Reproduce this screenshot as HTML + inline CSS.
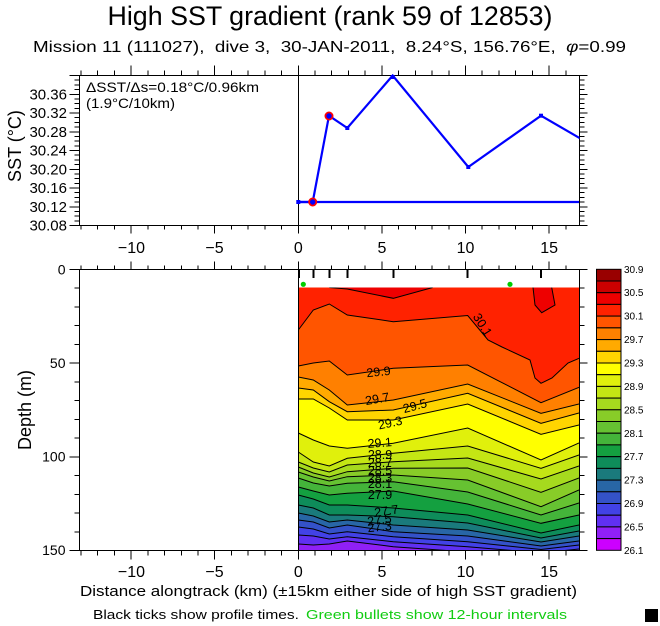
<!DOCTYPE html>
<html><head><meta charset="utf-8"><style>
html,body{margin:0;padding:0;background:#fff}
svg{display:block}
text{font-family:"Liberation Sans",sans-serif;fill:#000}
</style></head><body>
<svg width="660" height="626" viewBox="0 0 660 626" xmlns="http://www.w3.org/2000/svg" xmlns:xlink="http://www.w3.org/1999/xlink">
<defs>
<path id="xmin" d="M80.9 0v1M97.7 0v1M114.4 0v1M147.8 0v1M164.5 0v1M181.3 0v1M198 0v1M231.4 0v1M248.1 0v1M264.9 0v1M281.6 0v1M315 0v1M331.7 0v1M348.5 0v1M365.2 0v1M398.6 0v1M415.3 0v1M432.1 0v1M448.8 0v1M482.2 0v1M498.9 0v1M515.7 0v1M532.4 0v1M565.8 0v1"/>
<path id="xmaj" d="M131.1 0v1M214.7 0v1M298.3 0v1M381.9 0v1M465.5 0v1M549.1 0v1"/>
<path id="tymin" d="M0 220.8h1M0 216.1h1M0 211.4h1M0 202.1h1M0 197.4h1M0 192.7h1M0 183.3h1M0 178.6h1M0 173.9h1M0 164.6h1M0 159.9h1M0 155.2h1M0 145.8h1M0 141.1h1M0 136.4h1M0 127.1h1M0 122.4h1M0 117.7h1M0 108.3h1M0 103.6h1M0 98.9h1M0 89.6h1M0 84.9h1M0 80.2h1"/>
<path id="tymaj" d="M0 225.5h1M0 206.75h1M0 188h1M0 169.25h1M0 150.5h1M0 131.75h1M0 113h1M0 94.25h1M0 75.5h1"/>
<path id="cymin" d="M0 288.2h1M0 307h1M0 325.7h1M0 344.4h1M0 381.9h1M0 400.6h1M0 419.4h1M0 438.1h1M0 475.6h1M0 494.3h1M0 513h1M0 531.8h1"/>
<path id="cymaj" d="M0 269.5h1M0 363.2h1M0 456.8h1M0 550.5h1"/>
<clipPath id="cclip"><rect x="298.3" y="287.5" width="280.7" height="263"/></clipPath>
<clipPath id="tclip"><rect x="79.5" y="74" width="500" height="152"/></clipPath>
</defs>

<!-- Titles -->
<text x="330" y="25" font-size="27" text-anchor="middle" textLength="445" lengthAdjust="spacingAndGlyphs">High SST gradient (rank 59 of 12853)</text>
<text x="33" y="52" font-size="16" style="white-space:pre" textLength="593" lengthAdjust="spacingAndGlyphs">Mission 11 (111027),  dive 3,  30-JAN-2011,  8.24°S, 156.76°E,  <tspan font-style="italic">φ</tspan>=0.99</text>

<!-- ===== TOP PLOT ===== -->
<g stroke="#000" stroke-width="1" shape-rendering="crispEdges" fill="none">
<rect x="79.5" y="75.5" width="500" height="150"/>
<line x1="298.5" y1="75.5" x2="298.5" y2="225.5"/>
<use xlink:href="#xmin" transform="translate(0,75.5) scale(1,-5)"/>
<use xlink:href="#xmaj" transform="translate(0,75.5) scale(1,-10)"/>
<use xlink:href="#xmin" transform="translate(0,225.5) scale(1,4)"/>
<use xlink:href="#xmaj" transform="translate(0,225.5) scale(1,8)"/>
<use xlink:href="#tymin" transform="translate(79.5,0) scale(-5,1)"/>
<use xlink:href="#tymaj" transform="translate(79.5,0) scale(-10,1)"/>
<use xlink:href="#tymin" transform="translate(579.5,0) scale(5,1)"/>
<use xlink:href="#tymaj" transform="translate(579.5,0) scale(8,1)"/>
</g>
<g font-size="15" text-anchor="end">
<text x="67" y="230.5">30.08</text>
<text x="67" y="211.75">30.12</text>
<text x="67" y="193">30.16</text>
<text x="67" y="174.25">30.20</text>
<text x="67" y="155.5">30.24</text>
<text x="67" y="136.75">30.28</text>
<text x="67" y="118">30.32</text>
<text x="67" y="99.25">30.36</text>
</g>
<g font-size="16" text-anchor="middle">
<text x="131.5" y="253">−10</text>
<text x="214.5" y="253">−5</text>
<text x="298.3" y="253">0</text>
<text x="381.9" y="253">5</text>
<text x="465.5" y="253">10</text>
<text x="549.1" y="253">15</text>
</g>
<text transform="translate(21,146) rotate(-90)" font-size="18" text-anchor="middle">SST (°C)</text>
<text x="86" y="92" font-size="14" textLength="173" lengthAdjust="spacingAndGlyphs">ΔSST/Δs=0.18°C/0.96km</text>
<text x="86" y="108" font-size="14" textLength="89" lengthAdjust="spacingAndGlyphs">(1.9°C/10km)</text>

<g clip-path="url(#tclip)">
<polyline points="298.3,202 579,202" fill="none" stroke="#0000ff" stroke-width="2.2"/>
<polyline points="298.3,202 312.7,202 329,115.7 347.3,128 392.7,75.5 468.3,167 541,115.7 579,137.7 590,144" fill="none" stroke="#0000ff" stroke-width="2.2"/>
<g fill="#0000ff">
<rect x="296.3" y="200" width="4" height="4"/>
<rect x="345.3" y="126" width="4" height="4"/>
<rect x="390.7" y="75" width="4" height="4"/>
<rect x="466.3" y="165" width="4" height="4"/>
<rect x="539" y="113.7" width="4" height="4"/>
</g>
<circle cx="312.7" cy="202" r="3.6" fill="#0000ff" stroke="#ff0000" stroke-width="1.8"/>
<circle cx="329" cy="116" r="3.6" fill="#0000ff" stroke="#ff0000" stroke-width="1.8"/>
</g>

<!-- ===== CONTOUR PLOT ===== -->
<g clip-path="url(#cclip)" stroke="none">
<rect x="298.3" y="287.5" width="281" height="263" fill="#ff2200"/>
<polygon fill="#ff5500" points="298.3,330 313.3,310 329.3,304 347.3,315 393.3,321.7 467.7,315.5 488,340 502,347 530,360 535,378 541,383.3 552,378 568,363 579,358.3 579,560 298.3,560"/>
<polygon fill="#ff8000" points="298.3,366 313.3,363 329.3,361 347.3,375 393.3,368.3 467.7,365 541,402.7 579,387.3 579,560 298.3,560"/>
<polygon fill="#ffaa00" points="298.3,377 313.3,380 329.3,390 347.3,405 393.3,400 467.7,384 541,413.3 579,404 579,560 298.3,560"/>
<polygon fill="#ffd500" points="298.3,388 313.3,390 329.3,401.7 347.3,411.7 393.3,410 467.7,393.3 541,423.3 579,413 579,560 298.3,560"/>
<polygon fill="#ffff00" points="298.3,399 313.3,399 329.3,408 347.3,420 393.3,420 467.7,404 541,434.3 579,425 579,560 298.3,560"/>
<polygon fill="#e0f00c" points="298.3,433 313.3,440 329.3,446 347.3,448.3 393.3,443.3 467.7,428 541,460 579,443 579,560 298.3,560"/>
<polygon fill="#c4e614" points="298.3,452 313.3,462 329.3,466 347.3,458.3 393.3,453.3 467.7,446 541,468.3 579,455 579,560 298.3,560"/>
<polygon fill="#a6da1e" points="298.3,462 313.3,468 329.3,472 347.3,465 393.3,461.7 467.7,458 541,479 579,466 579,560 298.3,560"/>
<polygon fill="#88cc28" points="298.3,467 313.3,473 329.3,477 347.3,471.7 393.3,468.3 467.7,468 541,492.3 579,478 579,560 298.3,560"/>
<polygon fill="#66c232" points="298.3,472 313.3,477 329.3,481 347.3,476.7 393.3,475 467.7,480 541,506.7 579,490 579,560 298.3,560"/>
<polygon fill="#44b43a" points="298.3,478 313.3,483 329.3,486 347.3,483.3 393.3,481.7 467.7,492 541,515 579,503 579,560 298.3,560"/>
<polygon fill="#14a040" points="298.3,487 313.3,491 329.3,495 347.3,493.3 393.3,491 467.7,504 541,523.3 579,515 579,560 298.3,560"/>
<polygon fill="#0e8c5a" points="298.3,495 313.3,499 329.3,505 347.3,505 393.3,508 467.7,515 541,533 579,525 579,560 298.3,560"/>
<polygon fill="#1a7a7c" points="298.3,505 313.3,508 329.3,515 347.3,515 393.3,516.7 467.7,523 541,538 579,531 579,560 298.3,560"/>
<polygon fill="#2866a6" points="298.3,513 313.3,516 329.3,522 347.3,520 393.3,525 467.7,530 541,542 579,536 579,560 298.3,560"/>
<polygon fill="#3452c8" points="298.3,520 313.3,522 329.3,528 347.3,525 393.3,531.7 467.7,536 541,546 579,541 579,560 298.3,560"/>
<polygon fill="#4242e6" points="298.3,527 313.3,529 329.3,534 347.3,531.7 393.3,536.7 467.7,541.7 541,549.5 579,545 579,560 298.3,560"/>
<polygon fill="#6030f2" points="298.3,535 313.3,536 329.3,539 347.3,536.7 393.3,541.7 467.7,546.7 541,553 579,549 579,560 298.3,560"/>
<polygon fill="#9020f6" points="298.3,544 313.3,545 329.3,544 347.3,541 393.3,546.7 467.7,552 541,556 579,553 579,560 298.3,560"/>
<polygon fill="#ee0000" points="329.3,287.5 347.3,289 393.3,298.3 432.7,287.5"/>
<polygon fill="#ee0000" points="533,287.5 535,305 541.7,312.7 555,305 551.7,287.5"/>
<g fill="none" stroke="#000" stroke-width="1">
<polyline points="329.3,287.5 347.3,289 393.3,298.3 432.7,287.5"/>
<polyline points="533,287.5 535,305 541.7,312.7 555,305 551.7,287.5"/>
<polyline points="298.3,330 313.3,310 329.3,304 347.3,315 393.3,321.7 467.7,315.5 488,340 502,347 530,360 535,378 541,383.3 552,378 568,363 579,358.3"/>
<polyline points="298.3,366 313.3,363 329.3,361 347.3,375 393.3,368.3 467.7,365 541,402.7 579,387.3"/>
<polyline points="298.3,377 313.3,380 329.3,390 347.3,405 393.3,400 467.7,384 541,413.3 579,404"/>
<polyline points="298.3,388 313.3,390 329.3,401.7 347.3,411.7 393.3,410 467.7,393.3 541,423.3 579,413"/>
<polyline points="298.3,399 313.3,399 329.3,408 347.3,420 393.3,420 467.7,404 541,434.3 579,425"/>
<polyline points="298.3,433 313.3,440 329.3,446 347.3,448.3 393.3,443.3 467.7,428 541,460 579,443"/>
<polyline points="298.3,452 313.3,462 329.3,466 347.3,458.3 393.3,453.3 467.7,446 541,468.3 579,455"/>
<polyline points="298.3,462 313.3,468 329.3,472 347.3,465 393.3,461.7 467.7,458 541,479 579,466"/>
<polyline points="298.3,467 313.3,473 329.3,477 347.3,471.7 393.3,468.3 467.7,468 541,492.3 579,478"/>
<polyline points="298.3,472 313.3,477 329.3,481 347.3,476.7 393.3,475 467.7,480 541,506.7 579,490"/>
<polyline points="298.3,478 313.3,483 329.3,486 347.3,483.3 393.3,481.7 467.7,492 541,515 579,503"/>
<polyline points="298.3,487 313.3,491 329.3,495 347.3,493.3 393.3,491 467.7,504 541,523.3 579,515"/>
<polyline points="298.3,495 313.3,499 329.3,505 347.3,505 393.3,508 467.7,515 541,533 579,525"/>
<polyline points="298.3,505 313.3,508 329.3,515 347.3,515 393.3,516.7 467.7,523 541,538 579,531"/>
<polyline points="298.3,513 313.3,516 329.3,522 347.3,520 393.3,525 467.7,530 541,542 579,536"/>
<polyline points="298.3,520 313.3,522 329.3,528 347.3,525 393.3,531.7 467.7,536 541,546 579,541"/>
<polyline points="298.3,527 313.3,529 329.3,534 347.3,531.7 393.3,536.7 467.7,541.7 541,549.5 579,545"/>
<polyline points="298.3,535 313.3,536 329.3,539 347.3,536.7 393.3,541.7 467.7,546.7 541,553 579,549"/>
<polyline points="298.3,544 313.3,545 329.3,544 347.3,541 393.3,546.7 467.7,552 541,556 579,553"/>
</g>
</g>

<!-- contour labels -->
<g font-size="12.5" text-anchor="middle">
<text transform="translate(479,327) rotate(58)">30.1</text>
<text transform="translate(379,376) rotate(-6)">29.9</text>
<text transform="translate(378,403) rotate(-10)">29.7</text>
<text transform="translate(416,410) rotate(-15)">29.5</text>
<text transform="translate(391,427) rotate(-12)">29.3</text>
<text transform="translate(380,447) rotate(-4)">29.1</text>
<text x="380" y="459">28.9</text>
<text x="380" y="467">28.7</text>
<text x="380" y="475">28.5</text>
<text x="380" y="482">28.3</text>
<text x="380" y="488">28.1</text>
<text x="380" y="499">27.9</text>
<text transform="translate(387,515) rotate(-8)">27.7</text>
<text transform="translate(380,524) rotate(-8)">27.5</text>
<text transform="translate(380,531) rotate(-6)">27.3</text>
</g>

<!-- green bullets -->
<circle cx="303.3" cy="284.3" r="2.6" fill="#00cc00"/>
<circle cx="510" cy="284.3" r="2.6" fill="#00cc00"/>

<g stroke="#000" stroke-width="1" shape-rendering="crispEdges" fill="none">
<rect x="79.5" y="269.5" width="500" height="281"/>
<line x1="298.5" y1="269.5" x2="298.5" y2="550.5"/>
<use xlink:href="#xmin" transform="translate(0,269.5) scale(1,-4)"/>
<use xlink:href="#xmaj" transform="translate(0,269.5) scale(1,-8)"/>
<use xlink:href="#xmin" transform="translate(0,550.5) scale(1,5)"/>
<use xlink:href="#xmaj" transform="translate(0,550.5) scale(1,9)"/>
<use xlink:href="#cymin" transform="translate(79.5,0) scale(-5,1)"/>
<use xlink:href="#cymaj" transform="translate(79.5,0) scale(-10,1)"/>
<use xlink:href="#cymin" transform="translate(579.5,0) scale(5,1)"/>
<use xlink:href="#cymaj" transform="translate(579.5,0) scale(8,1)"/>
</g>
<!-- profile ticks -->
<g stroke="#000" stroke-width="2" shape-rendering="crispEdges">
<path d="M299 269.5v8.5M313.3 269.5v8.5M329.3 269.5v8.5M347.3 269.5v8.5M393.3 269.5v8.5M467.7 269.5v8.5M541 269.5v8.5"/>
</g>

<g font-size="14" text-anchor="end">
<text x="65.5" y="274.5">0</text>
<text x="65.5" y="368">50</text>
<text x="65.5" y="461.5">100</text>
<text x="65.5" y="555">150</text>
</g>
<text transform="translate(31,410) rotate(-90)" font-size="18" text-anchor="middle">Depth (m)</text>
<g font-size="16" text-anchor="middle">
<text x="131.5" y="577">−10</text>
<text x="214.5" y="577">−5</text>
<text x="298.3" y="577">0</text>
<text x="381.9" y="577">5</text>
<text x="465.5" y="577">10</text>
<text x="549.1" y="577">15</text>
</g>
<text x="80" y="596" font-size="15" textLength="497" lengthAdjust="spacingAndGlyphs">Distance alongtrack (km) (±15km either side of high SST gradient)</text>
<text x="93" y="619" font-size="13" textLength="206" lengthAdjust="spacingAndGlyphs">Black ticks show profile times.</text>
<text x="306" y="619" font-size="13" style="fill:#11cc11" textLength="261" lengthAdjust="spacingAndGlyphs">Green bullets show 12-hour intervals</text>
<rect x="645" y="609" width="13" height="13" fill="#000"/>

<!-- colorbar -->
<g stroke="#000" stroke-width="1">
<rect x="596.5" y="269.3" width="24.5" height="11.71" fill="#990000"/>
<rect x="596.5" y="281.0" width="24.5" height="11.71" fill="#cc0000"/>
<rect x="596.5" y="292.7" width="24.5" height="11.71" fill="#ee0000"/>
<rect x="596.5" y="304.4" width="24.5" height="11.71" fill="#ff2200"/>
<rect x="596.5" y="316.1" width="24.5" height="11.71" fill="#ff5500"/>
<rect x="596.5" y="327.9" width="24.5" height="11.71" fill="#ff8000"/>
<rect x="596.5" y="339.6" width="24.5" height="11.71" fill="#ffaa00"/>
<rect x="596.5" y="351.3" width="24.5" height="11.71" fill="#ffd500"/>
<rect x="596.5" y="363.0" width="24.5" height="11.71" fill="#ffff00"/>
<rect x="596.5" y="374.7" width="24.5" height="11.71" fill="#e0f00c"/>
<rect x="596.5" y="386.4" width="24.5" height="11.71" fill="#c4e614"/>
<rect x="596.5" y="398.1" width="24.5" height="11.71" fill="#a6da1e"/>
<rect x="596.5" y="409.8" width="24.5" height="11.71" fill="#88cc28"/>
<rect x="596.5" y="421.5" width="24.5" height="11.71" fill="#66c232"/>
<rect x="596.5" y="433.2" width="24.5" height="11.71" fill="#44b43a"/>
<rect x="596.5" y="444.9" width="24.5" height="11.71" fill="#14a040"/>
<rect x="596.5" y="456.7" width="24.5" height="11.71" fill="#0e8c5a"/>
<rect x="596.5" y="468.4" width="24.5" height="11.71" fill="#1a7a7c"/>
<rect x="596.5" y="480.1" width="24.5" height="11.71" fill="#2866a6"/>
<rect x="596.5" y="491.8" width="24.5" height="11.71" fill="#3452c8"/>
<rect x="596.5" y="503.5" width="24.5" height="11.71" fill="#4242e6"/>
<rect x="596.5" y="515.2" width="24.5" height="11.71" fill="#6030f2"/>
<rect x="596.5" y="526.9" width="24.5" height="11.71" fill="#9020f6"/>
<rect x="596.5" y="538.6" width="24.5" height="11.71" fill="#cc00ff"/>
</g>
<g font-size="10">
<text x="624" y="273">30.9</text>
<text x="624" y="296.2">30.5</text>
<text x="624" y="319.6">30.1</text>
<text x="624" y="343.1">29.7</text>
<text x="624" y="366.5">29.3</text>
<text x="624" y="389.9">28.9</text>
<text x="624" y="413.3">28.5</text>
<text x="624" y="436.8">28.1</text>
<text x="624" y="460.2">27.7</text>
<text x="624" y="483.6">27.3</text>
<text x="624" y="507">26.9</text>
<text x="624" y="530.5">26.5</text>
<text x="624" y="553.8">26.1</text>
</g>
</svg>
</body></html>
